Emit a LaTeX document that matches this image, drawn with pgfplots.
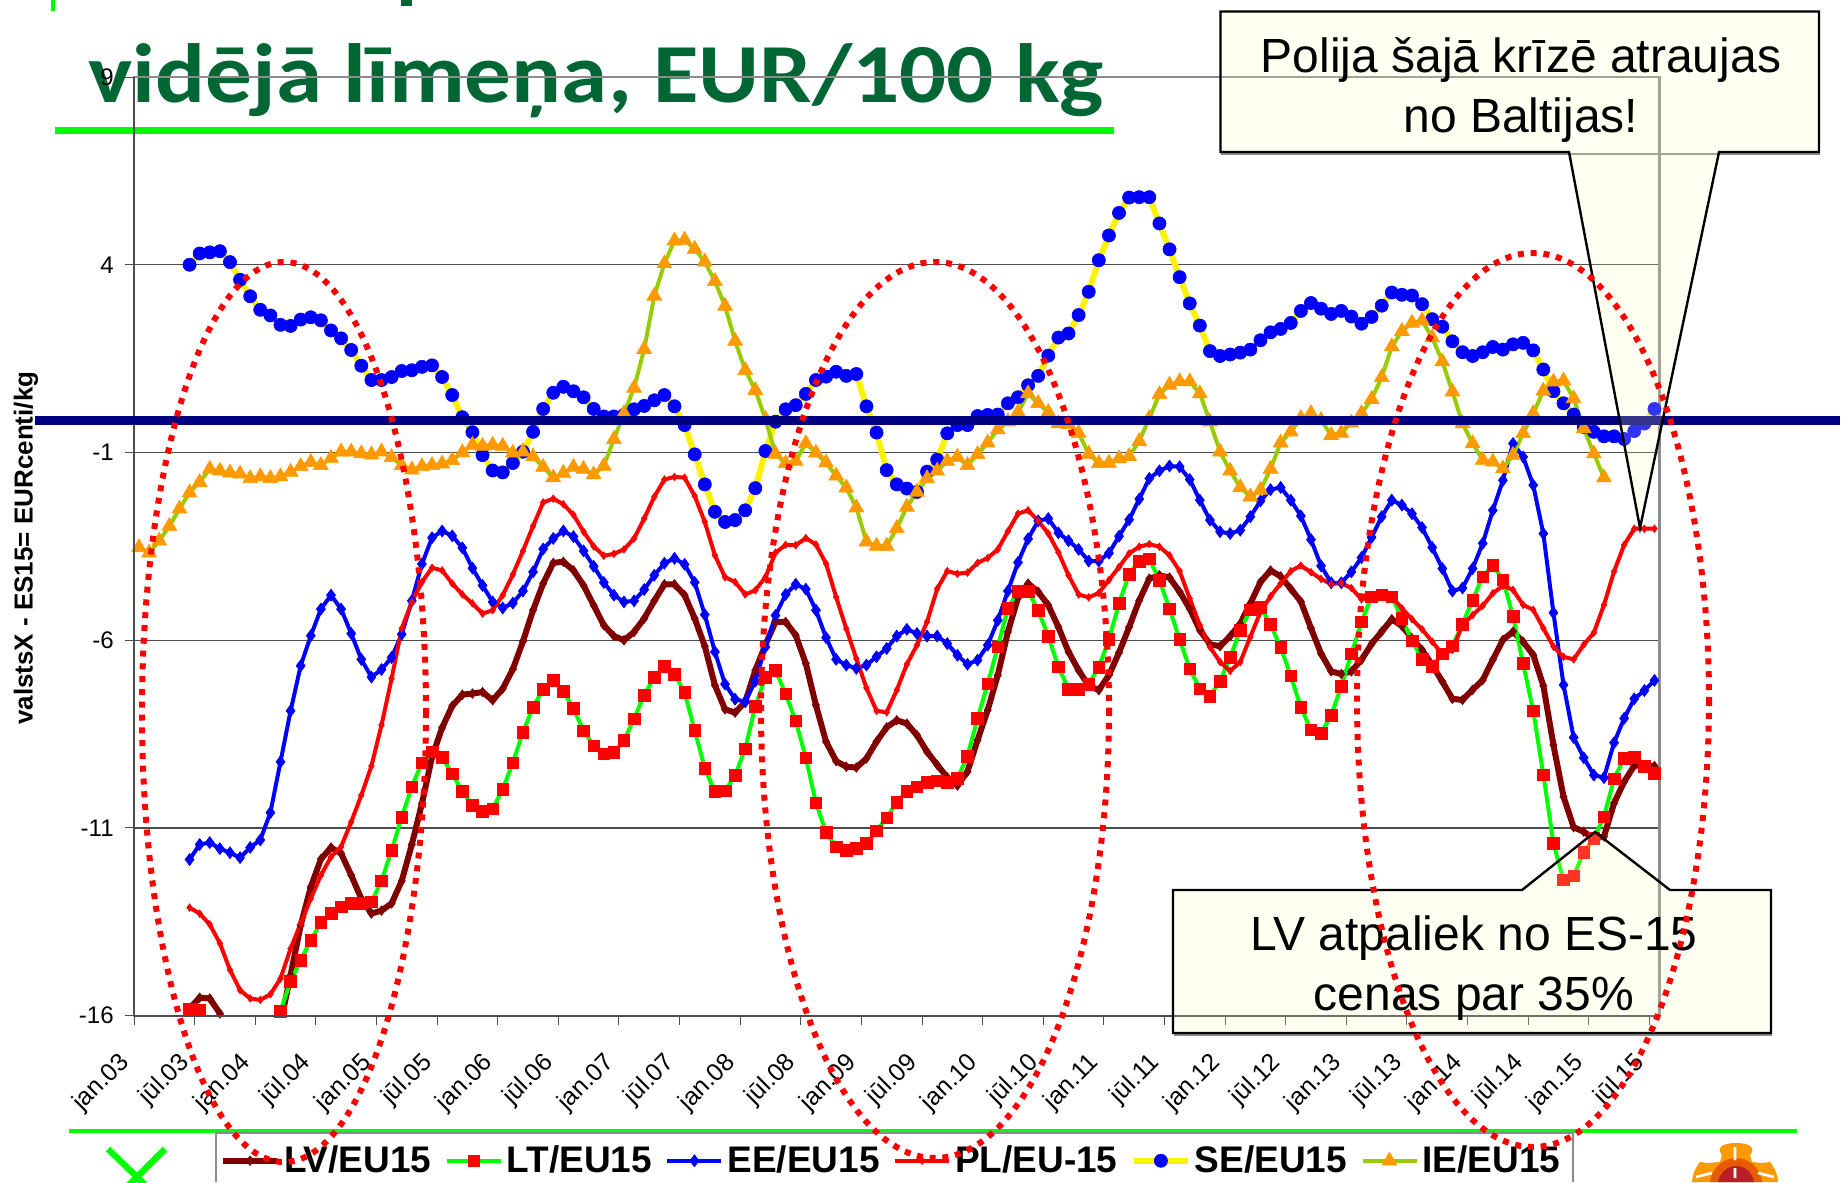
\documentclass[border=0pt]{standalone}
\usepackage{fontspec}
\usepackage{graphicx}
\setmainfont{Liberation Sans}
\newfontfamily\carlito{Carlito}
\usepackage{pgfplots}
\usepackage{pgfplotstable}
\pgfplotsset{compat=1.18}
\definecolor{lvc}{HTML}{800000}
\definecolor{ltc}{HTML}{00FF00}
\definecolor{iec}{HTML}{99CC00}
\definecolor{ieo}{HTML}{FF9900}
\definecolor{ttl}{HTML}{006633}
\definecolor{ivory}{HTML}{FFFFC0}
\definecolor{navy1}{HTML}{000080}
\definecolor{logor}{HTML}{B81E28}
\definecolor{logom}{HTML}{E85A00}
\pgfplotstableread[row sep=\\,header=false]{
-15.8\\-15.52\\-15.54\\-15.94\\-16.6\\-17.2\\-17.6\\-17.6\\-17.1\\-16.2\\
-14.92\\-13.59\\-12.57\\-11.83\\-11.52\\-11.68\\-12.26\\-12.88\\-13.28\\-13.2\\
-13.01\\-12.41\\-11.44\\-10.35\\-9.11\\-8.33\\-7.75\\-7.45\\-7.42\\-7.38\\
-7.6\\-7.29\\-6.77\\-6.03\\-5.2\\-4.49\\-3.94\\-3.91\\-4.14\\-4.54\\
-5.07\\-5.6\\-5.89\\-6.0\\-5.78\\-5.42\\-4.95\\-4.51\\-4.51\\-4.8\\
-5.42\\-6.16\\-7.2\\-7.84\\-7.93\\-7.64\\-6.8\\-6.12\\-5.51\\-5.51\\
-5.87\\-6.62\\-7.73\\-8.7\\-9.22\\-9.37\\-9.39\\-9.15\\-8.7\\-8.32\\
-8.13\\-8.22\\-8.53\\-8.97\\-9.32\\-9.65\\-9.87\\-9.5\\-8.66\\-7.86\\
-6.93\\-5.78\\-4.87\\-4.49\\-4.71\\-5.07\\-5.65\\-6.31\\-6.8\\-7.21\\
-7.33\\-6.93\\-6.33\\-5.65\\-4.94\\-4.36\\-4.27\\-4.33\\-4.71\\-5.16\\
-5.73\\-6.11\\-6.16\\-5.89\\-5.56\\-5.02\\-4.45\\-4.14\\-4.3\\-4.63\\
-4.97\\-5.68\\-6.36\\-6.83\\-6.9\\-6.83\\-6.52\\-6.1\\-5.77\\-5.44\\
-5.62\\-5.95\\-6.26\\-6.66\\-7.1\\-7.56\\-7.59\\-7.32\\-7.06\\-6.52\\
-5.99\\-5.77\\-6.04\\-6.39\\-7.21\\-8.79\\-10.17\\-10.98\\-11.1\\-11.28\\
-11.23\\-10.34\\-9.77\\-9.34\\-9.34\\-9.35\\
}\tLV
\pgfplotstableread[row sep=\\,header=false]{
-15.82\\-15.85\\-16.4\\-17\\-17.5\\-17.6\\-17.6\\-17.2\\-16.5\\-15.88\\
-15.08\\-14.52\\-13.99\\-13.52\\-13.28\\-13.1\\-13.01\\-13.01\\-12.97\\-12.41\\
-11.6\\-10.71\\-9.9\\-9.26\\-8.97\\-9.12\\-9.56\\-10.03\\-10.39\\-10.55\\
-10.49\\-9.97\\-9.26\\-8.45\\-7.78\\-7.31\\-7.07\\-7.36\\-7.82\\-8.41\\
-8.81\\-9.02\\-8.98\\-8.67\\-8.09\\-7.46\\-6.98\\-6.69\\-6.9\\-7.39\\
-8.4\\-9.41\\-10.03\\-10.01\\-9.6\\-8.89\\-7.76\\-6.98\\-6.8\\-7.43\\
-8.15\\-9.13\\-10.33\\-11.12\\-11.5\\-11.59\\-11.54\\-11.41\\-11.08\\-10.73\\
-10.31\\-10.03\\-9.9\\-9.79\\-9.74\\-9.79\\-9.68\\-9.09\\-8.08\\-7.16\\
-6.18\\-5.15\\-4.69\\-4.69\\-5.21\\-5.89\\-6.71\\-7.3\\-7.3\\-7.17\\
-6.72\\-5.98\\-5.02\\-4.24\\-3.89\\-3.83\\-4.41\\-5.16\\-5.98\\-6.76\\
-7.29\\-7.49\\-7.09\\-6.46\\-5.73\\-5.19\\-5.12\\-5.58\\-6.19\\-6.95\\
-7.79\\-8.39\\-8.48\\-8.0\\-7.23\\-6.36\\-5.51\\-4.84\\-4.79\\-4.84\\
-5.42\\-6.01\\-6.5\\-6.7\\-6.36\\-6.15\\-5.57\\-4.93\\-4.31\\-4.0\\
-4.39\\-5.36\\-6.62\\-7.88\\-9.58\\-11.41\\-12.38\\-12.27\\-11.65\\-11.28\\
-10.7\\-9.69\\-9.15\\-9.11\\-9.35\\-9.54\\
}\tLT
\pgfplotstableread[row sep=\\,header=false]{
-11.84\\-11.44\\-11.39\\-11.55\\-11.66\\-11.79\\-11.52\\-11.32\\-10.59\\-9.24\\
-7.88\\-6.68\\-5.88\\-5.17\\-4.8\\-5.17\\-5.82\\-6.51\\-6.98\\-6.78\\
-6.46\\-5.84\\-4.95\\-3.97\\-3.27\\-3.09\\-3.22\\-3.54\\-4.08\\-4.54\\
-4.98\\-5.14\\-5.01\\-4.69\\-4.18\\-3.57\\-3.29\\-3.09\\-3.24\\-3.62\\
-4.03\\-4.46\\-4.8\\-4.98\\-4.95\\-4.65\\-4.27\\-3.95\\-3.82\\-3.98\\
-4.46\\-5.32\\-6.31\\-7.17\\-7.57\\-7.64\\-7.09\\-6.18\\-5.34\\-4.78\\
-4.51\\-4.64\\-5.2\\-5.93\\-6.51\\-6.66\\-6.75\\-6.66\\-6.44\\-6.22\\
-5.89\\-5.71\\-5.82\\-5.89\\-5.89\\-6.09\\-6.4\\-6.64\\-6.53\\-6.13\\
-5.47\\-4.69\\-3.93\\-3.3\\-2.82\\-2.76\\-3.14\\-3.35\\-3.58\\-3.89\\
-3.89\\-3.68\\-3.23\\-2.79\\-2.24\\-1.69\\-1.49\\-1.36\\-1.38\\-1.72\\
-2.27\\-2.8\\-3.11\\-3.16\\-3.07\\-2.71\\-2.29\\-1.99\\-1.93\\-2.27\\
-2.69\\-3.32\\-4.02\\-4.47\\-4.47\\-4.18\\-3.8\\-3.26\\-2.71\\-2.27\\
-2.4\\-2.63\\-3.0\\-3.53\\-4.09\\-4.69\\-4.61\\-4.09\\-3.42\\-2.54\\
-1.74\\-0.76\\-1.12\\-1.87\\-3.16\\-5.27\\-7.19\\-8.59\\-9.13\\-9.59\\
-9.66\\-8.73\\-8.08\\-7.56\\-7.34\\-7.07\\
}\tEE
\pgfplotstableread[row sep=\\,header=false]{
-13.12\\-13.28\\-13.57\\-14.07\\-14.78\\-15.32\\-15.54\\-15.58\\-15.43\\-15.01\\
-14.21\\-13.54\\-12.88\\-12.26\\-11.77\\-11.5\\-10.84\\-10.13\\-9.35\\-8.26\\
-7.02\\-5.69\\-4.98\\-4.45\\-4.07\\-4.14\\-4.49\\-4.78\\-5.02\\-5.29\\
-5.2\\-4.8\\-4.25\\-3.62\\-2.96\\-2.33\\-2.23\\-2.38\\-2.66\\-3.11\\
-3.5\\-3.75\\-3.7\\-3.58\\-3.29\\-2.76\\-2.18\\-1.72\\-1.65\\-1.67\\
-2.16\\-2.85\\-3.74\\-4.32\\-4.45\\-4.78\\-4.67\\-4.32\\-3.67\\-3.46\\
-3.47\\-3.28\\-3.45\\-3.96\\-4.85\\-5.69\\-6.49\\-7.27\\-7.88\\-7.92\\
-7.33\\-6.64\\-6.13\\-5.51\\-4.63\\-4.16\\-4.23\\-4.2\\-3.94\\-3.81\\
-3.58\\-3.1\\-2.63\\-2.54\\-2.82\\-3.16\\-3.66\\-4.27\\-4.78\\-4.86\\
-4.74\\-4.4\\-4.05\\-3.69\\-3.51\\-3.44\\-3.51\\-3.74\\-4.16\\-4.89\\
-5.6\\-6.18\\-6.58\\-6.82\\-6.58\\-5.91\\-5.25\\-4.83\\-4.49\\-4.16\\
-4.01\\-4.19\\-4.37\\-4.5\\-4.48\\-4.61\\-4.91\\-4.85\\-4.84\\-4.84\\
-5.15\\-5.44\\-5.71\\-6.04\\-6.37\\-6.26\\-5.59\\-5.33\\-5.08\\-4.75\\
-4.55\\-4.66\\-5.06\\-5.19\\-5.68\\-6.17\\-6.44\\-6.51\\-6.12\\-5.8\\
-5.06\\-4.17\\-3.46\\-3.03\\-3.03\\-3.03\\
}\tPL
\pgfplotstableread[row sep=\\,header=false]{
4.0\\4.3\\4.33\\4.36\\4.07\\3.6\\3.16\\2.8\\2.65\\2.4\\
2.37\\2.54\\2.6\\2.52\\2.25\\2.04\\1.73\\1.31\\0.93\\0.93\\
1.01\\1.17\\1.19\\1.28\\1.32\\1.01\\0.53\\-0.06\\-0.46\\-1.07\\
-1.48\\-1.53\\-1.28\\-0.98\\-0.45\\0.16\\0.59\\0.75\\0.63\\0.47\\
0.16\\-0.04\\-0.04\\0.0\\0.15\\0.24\\0.39\\0.53\\0.23\\-0.27\\
-1.05\\-1.85\\-2.58\\-2.85\\-2.80\\-2.54\\-1.95\\-0.96\\-0.18\\0.15\\
0.26\\0.56\\0.93\\1.02\\1.15\\1.04\\1.09\\0.23\\-0.47\\-1.47\\
-1.85\\-1.96\\-2.05\\-1.51\\-1.19\\-0.49\\-0.27\\-0.27\\-0.03\\0\\
0.01\\0.31\\0.47\\0.79\\1.04\\1.58\\2.06\\2.17\\2.66\\3.28\\
4.12\\4.78\\5.38\\5.79\\5.80\\5.80\\5.10\\4.41\\3.67\\2.97\\
2.38\\1.70\\1.57\\1.61\\1.66\\1.74\\1.99\\2.20\\2.29\\2.45\\
2.77\\2.98\\2.83\\2.69\\2.77\\2.62\\2.43\\2.61\\2.91\\3.26\\
3.20\\3.18\\2.95\\2.55\\2.35\\1.96\\1.67\\1.57\\1.67\\1.81\\
1.74\\1.88\\1.92\\1.72\\1.21\\0.63\\0.31\\0.01\\-0.32\\-0.45\\
-0.57\\-0.57\\-0.64\\-0.43\\-0.23\\0.16\\
}\tSE
\pgfplotstableread[row sep=\\,header=false]{
-3.53\\-3.67\\-3.35\\-2.96\\-2.5\\-2.07\\-1.79\\-1.44\\-1.49\\-1.54\\
-1.57\\-1.69\\-1.64\\-1.69\\-1.64\\-1.52\\-1.37\\-1.26\\-1.34\\-1.15\\
-0.98\\-0.98\\-1.03\\-1.06\\-0.98\\-1.13\\-1.34\\-1.46\\-1.37\\-1.34\\
-1.3\\-1.21\\-1.0\\-0.8\\-0.83\\-0.8\\-0.83\\-1.01\\-0.98\\-1.11\\
-1.39\\-1.67\\-1.55\\-1.39\\-1.44\\-1.59\\-1.36\\-0.65\\0.04\\0.72\\
1.75\\3.17\\4.03\\4.64\\4.66\\4.42\\4.08\\3.56\\2.90\\1.97\\
1.19\\0.66\\-0.11\\-1.04\\-1.29\\-1.23\\-0.76\\-1.01\\-1.27\\-1.62\\
-1.94\\-2.47\\-3.38\\-3.49\\-3.49\\-3.02\\-2.45\\-2.05\\-1.69\\-1.49\\
-1.23\\-1.12\\-1.34\\-1.05\\-0.74\\-0.39\\-0.18\\0.07\\0.57\\0.31\\
0.07\\-0.23\\-0.25\\-0.48\\-1.04\\-1.29\\-1.28\\-1.16\\-1.10\\-0.70\\
-0.09\\0.55\\0.80\\0.89\\0.89\\0.57\\-0.18\\-0.98\\-1.49\\-1.93\\
-2.18\\-2.0\\-1.44\\-0.74\\-0.45\\-0.09\\0.04\\-0.14\\-0.54\\-0.48\\
-0.21\\0.04\\0.42\\1.0\\1.82\\2.23\\2.45\\2.51\\2.06\\1.42\\
0.62\\-0.23\\-0.76\\-1.2\\-1.25\\-1.43\\-1.07\\-0.49\\0.04\\0.64\\
0.88\\0.91\\0.44\\-0.36\\-1.03\\-1.67\\
}\tIE
\begin{document}
\begin{tikzpicture}
\path[use as bounding box] (0pt,0pt) rectangle (922.5pt,-591pt);
\begin{scope}[x=0.5pt,y=-0.5pt]
\node[anchor=base west,inner sep=0pt,text=ttl,font=\carlito\bfseries\fontsize{42}{48}\selectfont] at (88,103) {\scalebox{1.11}[1]{vidējā līmeņa, EUR/100 kg}};
\fill[ltc] (55,127.5) rectangle (1114,134.5);
\fill[ltc] (51,0) rectangle (55,11);
\fill[ttl] (401,0) rectangle (412,6.5);
\end{scope}
\begin{axis}[
  at={(67pt,-507.85pt)},anchor=south west,scale only axis,
  width=762.75pt,height=469.35pt,
  xmin=0,xmax=151,ymin=-16,ymax=9,
  xtick={0,6,...,150},
  xticklabels={jan.03,jūl.03,jan.04,jūl.04,jan.05,jūl.05,jan.06,jūl.06,jan.07,jūl.07,jan.08,jūl.08,jan.09,jūl.09,jan.10,jūl.10,jan.11,jūl.11,jan.12,jūl.12,jan.13,jūl.13,jan.14,jūl.14,jan.15,jūl.15},
  ytick={-16,-11,-6,-1,4,9},
  yticklabels={-16,-11,-6,-1,4,9},
  x tick label style={font=\fontsize{12.4}{14}\selectfont,rotate=45,anchor=north east,xshift=-15pt,yshift=-3.1pt,inner sep=0pt},
  y tick label style={font=\fontsize{12}{14}\selectfont,inner sep=0pt,xshift=-5.5pt},
  ymajorgrids,
  grid style={draw=black!70,line width=0.65pt},
  axis line style={draw=black!45,line width=1.2pt},
  tick style={draw=black!70,line width=0.5pt},
  major tick length=4.5pt,
  xtick pos=lower,ytick pos=left,
  tick align=outside,
  ylabel={valstsX - ES15= EURcenti/kg},
  every axis y label/.style={at={(axis description cs:-0.0708,0.498)},anchor=center,rotate=90,font=\bfseries\fontsize{13}{15}\selectfont},
  legend columns=6,
  legend cell align=left,
  legend style={at={(axis description cs:0.497,-0.1545)},anchor=center,draw=none,fill=none,inner sep=0pt,
    font=\bfseries\fontsize{18.5}{20}\selectfont,
    /tikz/every even column/.append style={column sep=4.7pt},
    /tikz/every odd column/.append style={column sep=0pt}},
  legend image code/.code={\draw[mark repeat=2,mark phase=2,#1] plot coordinates {(0pt,0pt)(13.5pt,0pt)(27pt,0pt)};},
]
\addplot[lvc,line width=3pt,mark=diamond*,mark size=2.4pt,mark options={lvc,fill=lvc,line width=0.3pt}] table[x expr=\coordindex+5.5,y index=0] {\tLV};
\addlegendentry{LV/EU15}
\addplot[ltc,line width=2pt,mark=square*,mark size=2.9pt,mark options={red,fill=red,line width=0.3pt}] table[x expr=\coordindex+5.5,y index=0] {\tLT};
\addlegendentry{LT/EU15}
\addplot[blue,line width=2pt,mark=diamond*,mark size=3pt,mark options={blue,fill=blue,line width=0.3pt}] table[x expr=\coordindex+5.5,y index=0] {\tEE};
\addlegendentry{EE/EU15}
\addplot[red,line width=2pt,mark=diamond*,mark size=1.9pt,mark options={red,fill=red,line width=0.3pt}] table[x expr=\coordindex+5.5,y index=0] {\tPL};
\addlegendentry{PL/EU-15}
\addplot[yellow,line width=3pt,mark=*,mark size=3.3pt,mark options={blue,fill=blue,line width=0.3pt}] table[x expr=\coordindex+5.5,y index=0] {\tSE};
\addlegendentry{SE/EU15}
\addplot[iec,line width=2pt,mark=triangle*,mark size=4.3pt,mark options={ieo,fill=ieo,line width=0.3pt}] table[x expr=\coordindex+0.5,y index=0] {\tIE};
\addlegendentry{IE/EU15}
\end{axis}
\begin{scope}[x=0.5pt,y=-0.5pt]
% left and bottom axis lines
\draw[black!70,line width=1pt] (134,77)--(134,1016);
\draw[black!70,line width=1.4pt] (134,1016)--(1659.5,1016);
% navy line
\fill[navy1] (35,415.5) rectangle (1840,424.5);
% callouts
\fill[black!45] (1221,153) rectangle (1820,155);
\draw[black,line width=1.2pt,fill=ivory,fill opacity=0.2] (1220.5,11.5)--(1819,11.5)--(1819,152)--(1719,152)--(1640,528)--(1569,152)--(1220.5,152)--cycle;
\node[anchor=center,align=center,font=\fontsize{24}{30}\selectfont] at (1521,90) {Polija šajā krīzē atraujas\\no Baltijas!};
\fill[black!45] (1174,1034) rectangle (1772,1036);
\draw[black,line width=1.2pt,fill=ivory,fill opacity=0.2] (1173,890)--(1522,890)--(1595,832)--(1670,890)--(1771,890)--(1771,1033)--(1173,1033)--cycle;
\node[anchor=center,align=center,font=\fontsize{24}{30}\selectfont] at (1474,968) {LV atpaliek no ES-15\\cenas par 35\%};
% bottom band
\fill[ltc] (69,1129) rectangle (1797,1133);
\draw[black!45,line width=0.8pt] (216,1133)--(216,1182) (216,1133)--(1573,1133)--(1573,1182);
% logos
\begin{scope}
\clip (0,0) rectangle (1845,1182);
\draw[ltc,line width=3.2pt] (108,1149)--(137,1177)--(165,1149) (137,1177)--(128,1186) (137,1177)--(146,1186);
\fill[ieo] (1736,1143) .. controls (1722,1143) and (1716,1148) .. (1722,1155) -- (1720,1162) -- (1708,1163) -- (1700,1162) .. controls (1695,1168) and (1692,1176) .. (1692,1182) -- (1778,1182) .. controls (1778,1176) and (1775,1168) .. (1770,1162) -- (1762,1163) -- (1752,1162) -- (1750,1155) .. controls (1756,1148) and (1750,1143) .. (1736,1143) -- cycle;
\fill[logom] (1710,1182) .. controls (1712,1166) and (1725,1158) .. (1736,1158) .. controls (1747,1158) and (1760,1166) .. (1762,1182) -- cycle;
\fill[logor] (1718,1182) .. controls (1720,1172) and (1728,1166) .. (1736,1166) .. controls (1744,1166) and (1752,1172) .. (1754,1182) -- cycle;
\draw[white,line width=1.3pt] (1735,1147)--(1735,1160) (1735,1168)--(1735,1178) (1696,1177)--(1712,1173) (1774,1177)--(1758,1173);
\end{scope}
% ellipses
\begin{scope}[red,line width=3pt,dash pattern=on 3pt off 3.4pt]
\draw (284,712) ellipse [x radius=142,y radius=450];
\draw (935,710) ellipse [x radius=174,y radius=448];
\draw (1533,700) ellipse [x radius=176,y radius=447];
\end{scope}
\end{scope}
\end{tikzpicture}
\end{document}
